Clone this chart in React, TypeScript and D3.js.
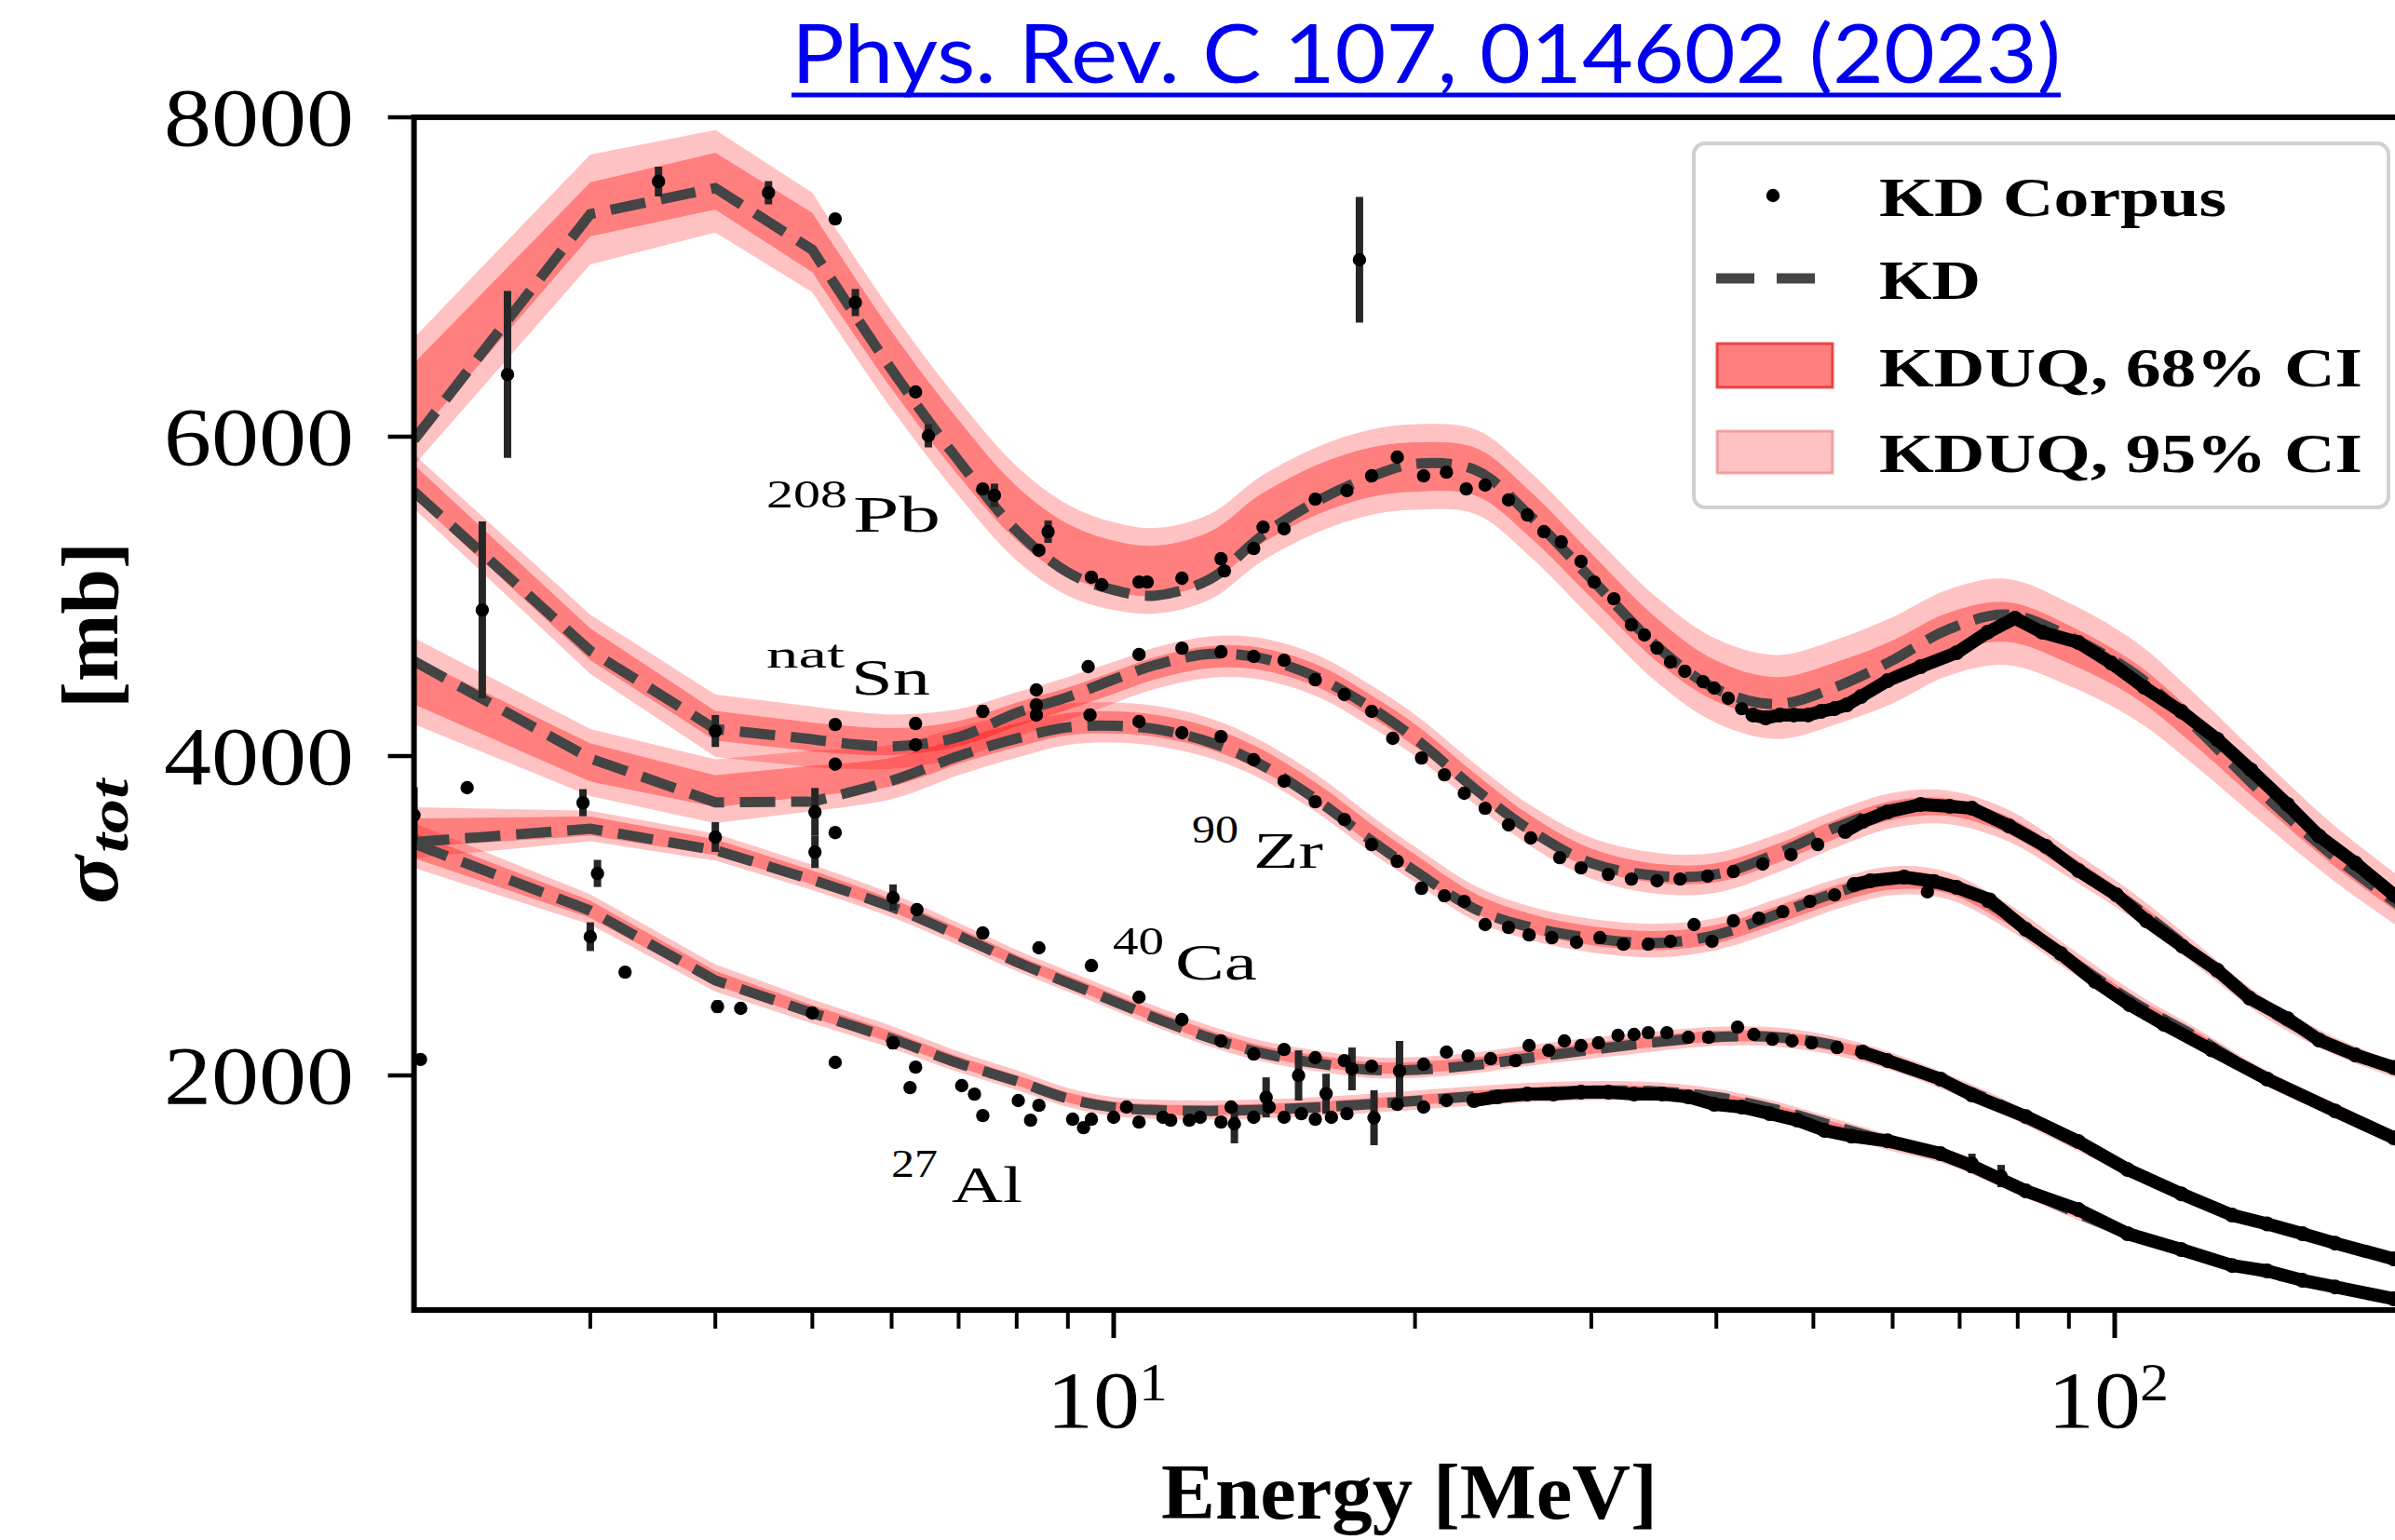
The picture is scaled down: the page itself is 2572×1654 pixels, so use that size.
import React from "react";
import * as d3 from "d3";

// ---------------- data ----------------
const energyGrid = [2, 3, 4, 5, 6, 7, 8, 9, 10, 11, 12.5, 14, 16, 18, 20, 23, 26, 30, 35, 40, 46, 53, 60, 68, 78, 90, 105, 120, 140, 165, 200];

const pbKD = [5980, 7394, 7557, 7170, 6420, 5850, 5410, 5150, 5040, 5005, 5110, 5370, 5600, 5745, 5830, 5790, 5510, 5110, 4680, 4420, 4325, 4440, 4600, 4790, 4886, 4750, 4510, 4190, 3775, 3380, 2990];
const pbUQ = [6220, 7423, 7600, 7216, 6480, 5930, 5520, 5290, 5190, 5160, 5250, 5480, 5670, 5775, 5810, 5780, 5520, 5130, 4720, 4470, 4370, 4470, 4600, 4770, 4840, 4700, 4470, 4170, 3790, 3400, 3010];
const pbW68 = [240, 170, 178, 187, 180, 175, 170, 165, 160, 158, 158, 157, 156, 155, 155, 150, 145, 140, 135, 128, 125, 125, 125, 125, 125, 120, 110, 100, 90, 80, 70];
const pbW95 = [400, 344, 321, 312, 305, 300, 295, 285, 275, 268, 268, 268, 268, 268, 268, 265, 265, 265, 265, 263, 263, 265, 270, 270, 270, 260, 245, 225, 200, 175, 155];

const snKD = [5656, 4659, 4169, 4105, 4060, 4120, 4270, 4370, 4480, 4570, 4640, 4615, 4490, 4310, 4110, 3790, 3540, 3330, 3250, 3260, 3390, 3560, 3670, 3690, 3580, 3330, 3050, 2770, 2440, 2190, 1990];
const snUQ = [5720, 4700, 4190, 4120, 4090, 4140, 4260, 4360, 4460, 4550, 4620, 4610, 4500, 4320, 4130, 3820, 3570, 3360, 3265, 3270, 3390, 3550, 3660, 3680, 3570, 3330, 3050, 2770, 2440, 2190, 1990];
const snW68 = [105, 100, 93, 90, 85, 80, 75, 70, 70, 70, 70, 70, 70, 70, 70, 68, 65, 62, 60, 60, 60, 60, 60, 55, 55, 50, 45, 40, 35, 30, 28];
const snW95 = [170, 185, 195, 190, 170, 155, 140, 135, 130, 130, 130, 130, 130, 130, 130, 128, 128, 128, 128, 125, 120, 115, 110, 105, 100, 90, 80, 70, 60, 55, 50];

const zrKD = [4595, 3985, 3710, 3715, 3845, 4000, 4110, 4180, 4190, 4170, 4085, 3950, 3720, 3480, 3280, 3040, 2930, 2860, 2830, 2880, 3010, 3150, 3230, 3200, 3010, 2730, 2450, 2250, 2000, 1790, 1550];
const zrUQ = [4470, 3960, 3780, 3845, 3900, 4030, 4130, 4200, 4210, 4190, 4110, 3980, 3760, 3520, 3320, 3075, 2955, 2875, 2845, 2885, 3005, 3140, 3220, 3190, 3000, 2730, 2450, 2250, 2000, 1790, 1550];
const zrW68 = [146, 120, 100, 95, 90, 80, 75, 70, 70, 70, 70, 68, 65, 65, 65, 62, 60, 60, 60, 58, 55, 55, 55, 50, 50, 45, 40, 35, 30, 28, 25];
const zrW95 = [270, 210, 200, 190, 170, 150, 140, 130, 125, 125, 125, 120, 118, 115, 112, 110, 105, 105, 105, 100, 100, 95, 90, 85, 80, 75, 65, 55, 50, 45, 40];

const caKD = [3461, 3545, 3411, 3225, 3055, 2875, 2710, 2580, 2465, 2360, 2233, 2143, 2075, 2035, 2035, 2065, 2110, 2160, 2210, 2240, 2240, 2185, 2090, 1960, 1800, 1600, 1390, 1225, 1075, 955, 810];
const caUQ = [3520, 3562, 3430, 3240, 3065, 2885, 2720, 2590, 2475, 2370, 2245, 2155, 2090, 2050, 2050, 2080, 2125, 2170, 2215, 2245, 2240, 2180, 2085, 1955, 1795, 1600, 1390, 1225, 1075, 955, 810];
const caW68 = [90, 60, 50, 45, 40, 38, 36, 35, 35, 35, 35, 35, 35, 35, 35, 35, 35, 35, 35, 35, 35, 35, 35, 33, 30, 28, 25, 22, 20, 18, 16];
const caW95 = [160, 95, 85, 80, 75, 70, 66, 65, 65, 65, 65, 65, 65, 65, 65, 65, 65, 65, 62, 60, 60, 58, 55, 52, 50, 45, 40, 36, 32, 28, 25];

const alKD = [3452, 3032, 2595, 2391, 2230, 2076, 1964, 1855, 1800, 1783, 1778, 1785, 1800, 1820, 1840, 1870, 1890, 1905, 1900, 1865, 1785, 1675, 1580, 1495, 1335, 1160, 993, 883, 772, 679, 570];
const alUQ = [3440, 3040, 2610, 2400, 2240, 2085, 1970, 1862, 1805, 1788, 1783, 1790, 1805, 1825, 1845, 1873, 1893, 1905, 1898, 1860, 1780, 1670, 1575, 1490, 1330, 1158, 992, 882, 772, 679, 570];
const alW68 = [80, 55, 45, 40, 36, 34, 32, 32, 32, 32, 32, 32, 32, 32, 32, 32, 32, 32, 32, 32, 32, 30, 30, 28, 26, 24, 22, 20, 18, 16, 14];
const alW95 = [140, 95, 85, 75, 70, 65, 62, 60, 60, 60, 60, 60, 60, 60, 60, 60, 60, 60, 58, 56, 55, 52, 50, 48, 45, 40, 36, 32, 28, 25, 22];

// KD corpus: [energy, sigma, half error (optional)]
const pbDots = [
  [2.48, 6390, 522], [3.51, 7598, 93], [4.52, 7528, 73], [5.27, 7364], [5.52, 6840, 85], [6.34, 6280], [6.53, 6006, 73],
  [7.4, 5673], [7.6, 5633, 73], [8.42, 5289], [8.6, 5405, 70], [9.5, 5120], [9.73, 5073], [10.6, 5090], [10.8, 5090],
  [11.7, 5114], [12.8, 5236], [12.9, 5160], [13.8, 5300], [14.1, 5434], [14.8, 5423], [15.9, 5609], [17.1, 5662],
  [17.6, 7108, 393], [18.1, 5755], [19.2, 5872], [20.4, 5755], [21.5, 5778], [22.5, 5673], [23.5, 5697], [24.8, 5604],
  [25.9, 5510], [26.9, 5405], [28, 5341], [29.3, 5219], [30.2, 5090], [31.6, 4985], [32.9, 4822], [33.9, 4758],
  [34.9, 4676], [36, 4589], [37.2, 4531], [38.8, 4466], [39.8, 4426], [41.1, 4362], [42.4, 4297],
];
const pbDense = [
  [43.5, 4257], [44.8, 4239], [46.3, 4257], [47.8, 4257], [49.4, 4257], [50.9, 4280], [52.5, 4297], [54, 4321], [55.8, 4373],
  [59.3, 4472], [64, 4560], [69.5, 4647], [74.7, 4776], [79.5, 4863], [84.6, 4776], [92, 4711], [99.2, 4583], [107, 4431],
  [116.5, 4280], [126.6, 4105], [136.8, 3913], [148.8, 3697], [160, 3499], [174, 3329], [190, 3131], [205, 2960],
];

const snDots = [
  [2.34, 4915, 554], [4.0, 4157, 100], [5.27, 4198], [6.34, 4204], [6.34, 4070], [7.4, 4280, 40], [8.37, 4414], [8.37, 4320],
  [9.43, 4560], [10.6, 4636], [11.7, 4676], [12.8, 4653], [13.8, 4624], [14.8, 4600], [15.9, 4478], [17.0, 4385], [18.1, 4280],
  [19.0, 4111], [20.3, 3988], [21.4, 3883], [22.4, 3767], [23.5, 3673], [24.8, 3569], [26.1, 3487], [27.9, 3364], [29.3, 3300],
  [31.2, 3259], [32.9, 3230], [34.9, 3219], [36.8, 3230], [39.2, 3248], [41.6, 3277], [44.5, 3324], [47.5, 3382], [50.5, 3446],
];
const snDense = [
  [53.8, 3528], [56, 3590], [59.3, 3650], [64, 3697], [68.4, 3685], [72, 3673], [78.4, 3563], [85.4, 3434], [92, 3283],
  [100.4, 3131], [107.6, 2968], [116.8, 2810], [126.6, 2659], [136.4, 2484], [148.8, 2356], [160, 2222], [174, 2128], [190, 2050], [205, 1960],
];

const zrDots = [
  [5.03, 3650, 150], [5.27, 3949], [5.27, 3521], [8.37, 4257], [9.47, 4257], [10.6, 4216], [11.7, 4146], [12.8, 4122], [13.8, 3977],
  [14.8, 3843], [15.9, 3714], [17.0, 3603], [18.1, 3446], [19.2, 3341], [20.3, 3172], [21.4, 3125], [22.4, 3090], [23.5, 2945],
  [24.8, 2927], [26, 2880], [27.4, 2863], [29, 2834], [30.6, 2863], [32.3, 2822], [34.2, 2822], [36, 2840], [38, 2945], [39.6, 2840],
  [41.6, 2968], [44.1, 2985], [46.6, 3026], [49.6, 3090], [52.5, 3131], [65, 3150], [74.7, 3090],
];
const zrDense = [
  [54.9, 3195], [57, 3219], [61.6, 3242], [66, 3215], [69.5, 3178], [75, 3100], [81.5, 2915], [88.3, 2764], [95.6, 2589],
  [103.5, 2443], [112, 2320], [125, 2160], [142, 1977], [166, 1778], [190, 1609], [205, 1510],
];

const caDots = [
  [2.0, 3630, 175], [2.26, 3802], [2.95, 3708, 85], [3.05, 3265, 85], [4.0, 3493, 93], [5.03, 3399, 100], [6.02, 3114, 82],
  [6.36, 3038], [7.4, 2892], [8.42, 2799], [9.5, 2688], [10.6, 2490], [11.7, 2350], [12.8, 2216], [13.8, 2134], [14.8, 2163],
  [15.3, 2000, 157], [15.9, 2111], [17.0, 2093], [17.3, 2041, 134], [18.1, 2058], [19.3, 2029, 187], [20.4, 2070], [21.5, 2146],
  [22.6, 2122], [23.8, 2105], [25.2, 2093], [26.0, 2187], [27.2, 2157], [28.2, 2216], [29.3, 2187], [30.5, 2204], [31.9, 2251],
  [33.1, 2257], [34.2, 2268], [35.7, 2268], [37.5, 2239], [39.3, 2239], [42.0, 2303], [43.6, 2257], [45.5, 2227], [47.6, 2216],
  [49.8, 2204], [52.8, 2175],
];
const caDense = [
  [56, 2146], [59.3, 2093], [67, 1977], [72, 1878], [81.5, 1743], [92, 1586], [103, 1411], [116.5, 1259], [131, 1125],
  [142, 1070], [154, 1009], [166, 950], [190, 851], [205, 800],
];

const alDots = [
  [2.03, 2100], [3.0, 2869, 90], [3.25, 2647], [4.02, 2431, 40], [4.24, 2420], [5.0, 2391], [5.27, 2082], [6.02, 2204, 40],
  [6.26, 1924], [6.34, 2052], [7.05, 1936], [7.26, 1883], [7.4, 1749], [8.03, 1843], [8.26, 1720], [8.42, 1813], [9.1, 1726],
  [9.33, 1673], [9.5, 1726], [10.0, 1738], [10.3, 1802], [10.6, 1708], [11.2, 1738], [11.4, 1720], [11.9, 1720], [12.2, 1738],
  [12.8, 1708], [13.1, 1802], [13.2, 1697, 122], [13.8, 1738], [14.2, 1863, 125], [14.3, 1802], [14.8, 1738], [15.4, 1761],
  [15.9, 1726], [16.3, 1886, 125], [16.5, 1738], [17.1, 1761], [18.2, 1735, 172], [19.2, 1819], [20.4, 1802], [21.5, 1843],
  [72, 1450, 60], [77, 1370, 70],
];
const alDense = [
  [22.9, 1843], [24.2, 1866], [25.9, 1883], [27.5, 1883], [29.3, 1895], [31.2, 1895], [33.1, 1883], [35.3, 1883], [37.5, 1866],
  [39.8, 1819], [42.4, 1802], [45.2, 1761], [48.2, 1720], [51.3, 1656], [54.6, 1620], [59.3, 1590], [67, 1510], [72, 1434],
  [81.5, 1277], [92, 1160], [103, 1009], [116.5, 910], [131, 810], [142, 776], [154, 717], [166, 676], [190, 601], [205, 560],
];

const yTicks = [2000, 4000, 6000, 8000];
const xMajor = [10, 100];
const xMinor = [3, 4, 5, 6, 7, 8, 9, 20, 30, 40, 50, 60, 70, 80, 90, 200];
const xMajorSup = ["1", "2"];
const nucleusSup = ["208", "nat", "90", "40", "27"];
const nucleusName = ["Pb", "Sn", "Zr", "Ca", "Al"];
const legendLabels = ["KD Corpus", "KD", "KDUQ, 68% CI", "KDUQ, 95% CI"];
const titleText = "Phys. Rev. C 107, 014602 (2023)";

// ---------------- layout (pixels) ----------------
const W = 2572;
const H = 1654;
const SERIF = "'Liberation Serif', 'DejaVu Serif', serif";
const labelLayout = [
  { sx: 823, sw: 87, sy: 545, bx: 916, bw: 94, by: 571 },
  { sx: 823, sw: 84, sy: 717, bx: 914, bw: 85, by: 746 },
  { sx: 1280, sw: 50, sy: 905, bx: 1346, bw: 75, by: 932 },
  { sx: 1195, sw: 55, sy: 1025, bx: 1262, bw: 88, by: 1052 },
  { sx: 957, sw: 50, sy: 1264, bx: 1022, bw: 76, by: 1291 },
];
const legendBaselines = [232, 321, 415, 507];
const legendWidths = [373, 109, 519, 519];

type Row = number[];

export default function App() {
  const x = d3.scaleLog().domain([2, 200]).range([444.6, 2594.6]);
  const y = d3.scaleLinear().domain([531, 8000]).range([1407, 126]);
  const [px0, px1] = x.range();
  const [py1, py0] = y.range();

  const K = energyGrid.indexOf(5);
  const lin = d3.line<[number, number]>().curve(d3.curveLinear);
  const smo = d3.line<[number, number]>().curve(d3.curveCatmullRom.alpha(0.5));
  const stripM = (p: string) => p.replace(/^M[^A-Za-z]*/, "");
  const pts = (vals: number[]) => vals.map((v, i) => [x(energyGrid[i]), y(v)] as [number, number]);
  const fwd = (p: [number, number][]) => (lin(p.slice(0, K + 1)) || "") + stripM(smo(p.slice(K)) || "");
  const bwd = (p: [number, number][]) => {
    const a = p.slice(K).reverse();
    const b = p.slice(0, K + 1).reverse();
    return (smo(a) || "") + stripM(lin(b) || "");
  };
  const band = (lo: number[], hi: number[]) => fwd(pts(hi)) + "L" + bwd(pts(lo)).slice(1) + "Z";

  const nuclei = [
    { kd: pbKD, uq: pbUQ, w68: pbW68, w95: pbW95, dots: pbDots, dense: pbDense },
    { kd: snKD, uq: snUQ, w68: snW68, w95: snW95, dots: snDots, dense: snDense },
    { kd: zrKD, uq: zrUQ, w68: zrW68, w95: zrW95, dots: zrDots, dense: zrDense },
    { kd: caKD, uq: caUQ, w68: caW68, w95: caW95, dots: caDots, dense: caDense },
    { kd: alKD, uq: alUQ, w68: alW68, w95: alW95, dots: alDots, dense: alDense },
  ];

  const bands = nuclei.map((n) => {
    const lo68 = n.uq.map((c, i) => c - n.w68[i]);
    const hi68 = n.uq.map((c, i) => c + n.w68[i]);
    const lo95 = n.uq.map((c, i) => c - n.w95[i]);
    const hi95 = n.uq.map((c, i) => c + n.w95[i]);
    return {
      low95: band(lo95, lo68),
      up95: band(hi68, hi95),
      mid68: band(lo68, hi68),
      kd: fwd(pts(n.kd)),
    };
  });

  const denseLine = d3
    .line<Row>()
    .x((d) => x(d[0]))
    .y((d) => y(d[1]));

  const c95 = "rgba(255,0,0,0.24)";
  const c68 = "rgba(255,0,0,0.50)";

  return (
    <div style={{ position: "absolute", left: 0, top: 0, width: W, height: H, overflow: "hidden", background: "#fff" }}>
      <svg width={W} height={H} viewBox={`0 0 ${W} ${H}`} style={{ display: "block" }}>
        <defs>
          <clipPath id="plotclip">
            <rect x={px0} y={py0} width={px1 - px0} height={py1 - py0} />
          </clipPath>
        </defs>
        <rect x={0} y={0} width={W} height={H} fill="#fff" />

        {/* title */}
        <text x={850} y={89} fontFamily="Lato, 'Open Sans', sans-serif" fontSize={88} fill="#0000ee" textLength={1363} lengthAdjust="spacingAndGlyphs">
          {titleText}
        </text>
        <rect x={850} y={99.5} width={1363} height={5} fill="#0000ee" />

        <g clipPath="url(#plotclip)">
          {bands.map((b, i) => (
            <g key={"b95" + i}>
              <path d={b.low95} fill={c95} />
              <path d={b.up95} fill={c95} />
            </g>
          ))}
          {bands.map((b, i) => (
            <path key={"b68" + i} d={b.mid68} fill={c68} />
          ))}
          {bands.map((b, i) => (
            <path key={"kd" + i} d={b.kd} fill="none" stroke="#444" strokeWidth={11} strokeDasharray="38 17" />
          ))}
          {nuclei.map((n, i) => (
            <g key={"data" + i}>
              {n.dots.filter((d) => d.length > 2).map((d, j) => (
                <line key={"e" + j} x1={x(d[0])} x2={x(d[0])} y1={y(d[1] - d[2])} y2={y(d[1] + d[2])} stroke="#262626" strokeWidth={8} />
              ))}
              {n.dots.map((d, j) => (
                <circle key={"d" + j} cx={x(d[0])} cy={y(d[1])} r={7.2} fill="#000" />
              ))}
              <path d={denseLine(n.dense as Row[]) || ""} fill="none" stroke="#000" strokeWidth={14} strokeLinejoin="round" strokeLinecap="round" />
              {n.dense.map((d, j) => (
                <circle key={"dd" + j} cx={x(d[0])} cy={y(d[1])} r={8} fill="#000" />
              ))}
            </g>
          ))}
        </g>

        {/* nucleus labels */}
        {labelLayout.map((l, i) => (
          <g key={"lab" + i} fontFamily={SERIF} fill="#000">
            <text x={l.sx} y={l.sy} fontSize={42} textLength={l.sw} lengthAdjust="spacingAndGlyphs">
              {nucleusSup[i]}
            </text>
            <text x={l.bx} y={l.by} fontSize={54} textLength={l.bw} lengthAdjust="spacingAndGlyphs">
              {nucleusName[i]}
            </text>
          </g>
        ))}

        {/* spines */}
        <line x1={px0 - 2} x2={W} y1={py0} y2={py0} stroke="#000" strokeWidth={6} />
        <line x1={px0 - 2} x2={W} y1={py1} y2={py1} stroke="#000" strokeWidth={6} />
        <line x1={px0} x2={px0} y1={py0 - 3} y2={py1 + 3} stroke="#000" strokeWidth={6} />

        {/* y ticks */}
        {yTicks.map((t) => (
          <g key={"yt" + t}>
            <line x1={px0 - 28} x2={px0} y1={y(t)} y2={y(t)} stroke="#000" strokeWidth={4.5} />
            <text x={380} y={y(t) + 30} textAnchor="end" fontFamily={SERIF} fontSize={88} textLength={204} lengthAdjust="spacingAndGlyphs">
              {String(t)}
            </text>
          </g>
        ))}

        {/* x ticks */}
        {xMinor.map((t) => (
          <line key={"xm" + t} x1={x(t)} x2={x(t)} y1={py1} y2={py1 + 20} stroke="#000" strokeWidth={4} />
        ))}
        {xMajor.map((t, i) => (
          <g key={"xM" + t}>
            <line x1={x(t)} x2={x(t)} y1={py1} y2={py1 + 30} stroke="#000" strokeWidth={5} />
            <text x={x(t) - 72} y={1533} fontFamily={SERIF} fontSize={86} textLength={100} lengthAdjust="spacingAndGlyphs">
              10
            </text>
            <text x={x(t) + 27} y={1504} fontFamily={SERIF} fontSize={58} textLength={31} lengthAdjust="spacingAndGlyphs">
              {xMajorSup[i]}
            </text>
          </g>
        ))}

        {/* axis labels */}
        <text x={1247} y={1631} fontFamily={SERIF} fontWeight="bold" fontSize={84} textLength={533} lengthAdjust="spacingAndGlyphs">
          Energy [MeV]
        </text>
        <g fontFamily={SERIF} fontWeight="bold">
          <text transform="translate(126,971) rotate(-90)" fontSize={86} fontStyle="italic" textLength={52} lengthAdjust="spacingAndGlyphs">
            σ
          </text>
          <text transform="translate(137,916) rotate(-90)" fontSize={60} fontStyle="italic" textLength={79} lengthAdjust="spacingAndGlyphs">
            tot
          </text>
          <text transform="translate(126,761) rotate(-90)" fontSize={86} textLength={179} lengthAdjust="spacingAndGlyphs">
            [mb]
          </text>
        </g>

        {/* legend */}
        <g>
          <rect x={1819} y={154} width={746} height={391} rx={12} ry={12} fill="rgba(255,255,255,0.85)" stroke="#d0d0d0" strokeWidth={4} />
          <circle cx={1904} cy={210} r={7.2} fill="#000" />
          <line x1={1843} x2={1949} y1={299} y2={299} stroke="#444" strokeWidth={11} strokeDasharray="41 24" />
          <rect x={1844} y={369} width={124} height={47} fill={c68} stroke="rgba(230,40,40,0.8)" strokeWidth={3} />
          <rect x={1844} y={463} width={124} height={45} fill={c95} stroke="rgba(240,120,120,0.6)" strokeWidth={3} />
          {legendLabels.map((s, i) => (
            <text
              key={s}
              x={2018}
              y={legendBaselines[i]}
              fontFamily={SERIF}
              fontWeight="bold"
              fontSize={60}
              textLength={legendWidths[i]}
              lengthAdjust="spacingAndGlyphs"
            >
              {s}
            </text>
          ))}
        </g>
      </svg>
    </div>
  );
}
